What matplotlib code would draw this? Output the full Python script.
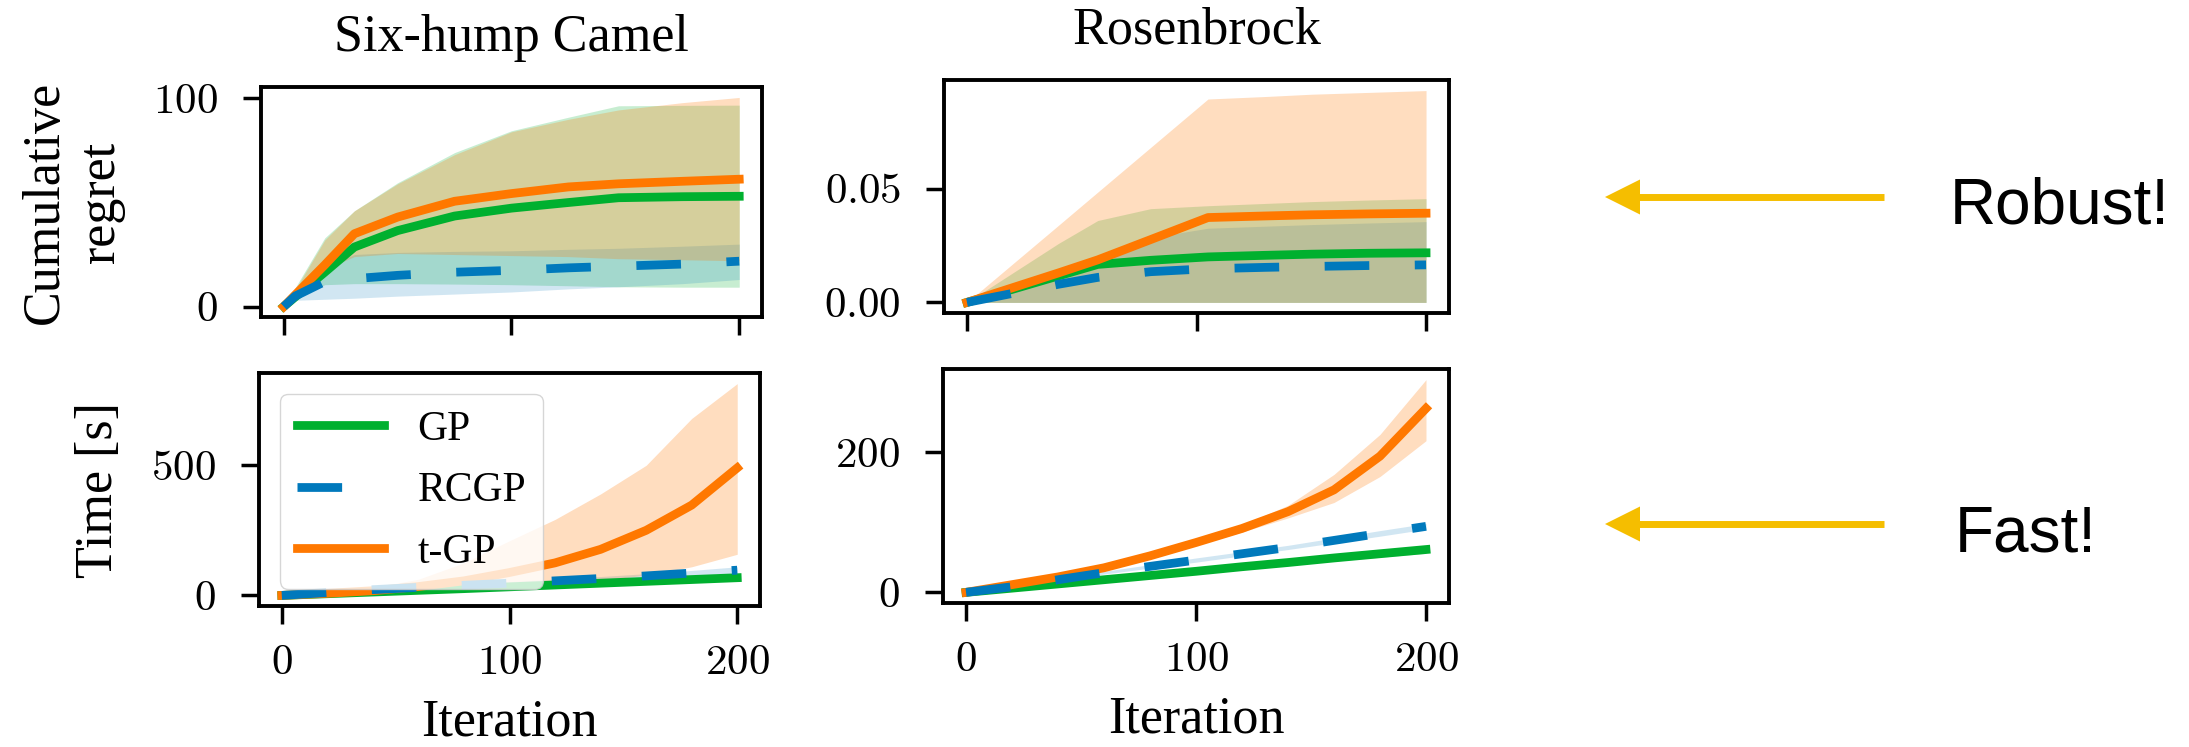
import matplotlib.pyplot as plt
from matplotlib.lines import Line2D
from matplotlib.patches import Polygon
from matplotlib.ticker import FuncFormatter

plt.rcParams['font.family'] = ['Liberation Serif', 'DejaVu Serif']
plt.rcParams['mathtext.fontset'] = 'cm'

c_gp = '#00b02f'
c_rcgp = '#0079bc'
c_tgp = '#ff7800'

# Six-hump Camel - cumulative regret
shc_it = [0, 5, 18, 31, 50, 75, 100, 125, 147, 175, 200]
shc_gp = [0, 4.6, 16.5, 28.6, 36.5, 43.5, 47.3, 50.0, 52.3, 52.8, 53.0]
shc_gp_lo = [0, 4, 10.5, 11, 11, 10.8, 10.5, 10, 9.5, 9.3, 9.3]
shc_gp_hi = [0, 9, 33, 46, 59.5, 74, 84.5, 91, 96.5, 96.7, 96.8]
shc_rcgp = [0, 5, 12, 13.4, 15, 16.5, 17.4, 18.6, 19.4, 20.4, 21.8]
shc_rcgp_lo = [0, 3, 3.5, 4, 5, 6, 7, 8.5, 9.5, 11, 13]
shc_rcgp_hi = [0, 5.5, 19, 25, 26, 26.5, 26.8, 27.5, 28, 29, 30]
shc_tgp = [0, 5.6, 20, 35, 43, 50.6, 54.3, 57.5, 59, 60.2, 61.2]
shc_tgp_lo = [0, 5, 18, 24, 25.5, 25, 24.5, 24, 23, 22.5, 22]
shc_tgp_hi = [0, 8, 32, 46, 59, 73, 84, 90, 94.5, 98, 100.5]

# Rosenbrock - cumulative regret
ros_it = [0, 20, 40, 57, 80, 105, 130, 150, 175, 200]
ros_gp = [0, 0.0058, 0.0117, 0.0167, 0.0185, 0.0200, 0.0207, 0.0212, 0.0216, 0.0218]
ros_gp_lo = [0, 0, 0, 0, 0, 0, 0, 0, 0, 0]
ros_gp_hi = [0, 0.0130, 0.0260, 0.0360, 0.0412, 0.0425, 0.0435, 0.0443, 0.0450, 0.0456]
ros_rcgp = [0, 0.0040, 0.0080, 0.0110, 0.0135, 0.0148, 0.0154, 0.0158, 0.0162, 0.0165]
ros_rcgp_lo = [0, 0, 0, 0, 0, 0, 0, 0, 0, 0]
ros_rcgp_hi = [0, 0.0055, 0.0125, 0.0185, 0.0285, 0.0326, 0.0335, 0.0342, 0.0349, 0.0355]
ros_tgp = [0, 0.0065, 0.0130, 0.0187, 0.0276, 0.0373, 0.0380, 0.0385, 0.0389, 0.0392]
ros_tgp_lo = [0, 0, 0, 0, 0, 0, 0, 0, 0, 0]
ros_tgp_hi = [0, 0.0170, 0.0340, 0.0485, 0.0681, 0.0894, 0.0905, 0.0915, 0.0923, 0.0931]

# Six-hump Camel - wall-clock time [s]
shc_t_it = [0, 20, 40, 60, 80, 100, 120, 140, 160, 180, 200]
shc_t_gp = [0, 6.5, 13, 19.5, 26, 33, 40, 47, 54, 61, 68]
shc_t_gp_lo = [0, 4.5, 10.5, 16.5, 23, 29.5, 36, 42.5, 49, 55, 61]
shc_t_gp_hi = [0, 8.5, 15.5, 22.5, 29, 36.5, 44, 51.5, 59, 67, 75]
shc_t_rcgp = [0, 11, 22, 31, 39, 47, 56, 65, 75, 86, 97]
shc_t_rcgp_lo = [0, 9, 19, 27, 34.5, 41.5, 49.5, 57.5, 66.5, 76, 86]
shc_t_rcgp_hi = [0, 13, 25, 35, 43.5, 52.5, 62.5, 72.5, 83.5, 96, 110]
shc_t_tgp = [0, 8, 18, 34, 56, 88, 125, 177, 250, 347, 490]
shc_t_tgp_lo = [0, 5, 10, 17, 27, 35, 45, 58, 78, 110, 158]
shc_t_tgp_hi = [0, 12, 30, 62, 125, 210, 292, 390, 500, 680, 814]

# Rosenbrock - wall-clock time [s]
ros_t_it = [0, 20, 40, 60, 80, 100, 120, 140, 160, 180, 200]
ros_t_gp = [0, 6, 12, 18, 24, 30, 36.5, 42.5, 49, 55, 61]
ros_t_gp_lo = [0, 5, 10.5, 16, 21.5, 27, 33, 38.5, 44.5, 50, 55.5]
ros_t_gp_hi = [0, 7, 13.5, 20, 26.5, 33, 40, 46.5, 53.5, 60, 66.5]
ros_t_rcgp = [0, 8, 18, 28, 37, 46, 55, 64, 74, 84, 94]
ros_t_rcgp_lo = [0, 7, 16, 26, 34.5, 43, 52, 61, 70.5, 80, 90]
ros_t_rcgp_hi = [0, 9, 20, 30, 39.5, 49, 58, 67, 77.5, 88, 98]
ros_t_tgp = [0, 11, 22, 35, 52, 71, 91, 115, 146, 194, 262]
ros_t_tgp_lo = [0, 10, 20, 33, 49, 67, 86, 106, 128, 165, 216]
ros_t_tgp_hi = [0, 12, 24, 37, 55, 75, 96, 124, 168, 225, 303]

W, H = 2189, 747
fig = plt.figure(figsize=(W / 100, H / 100), dpi=100)


def px_axes(left, top, right, bottom):
    return fig.add_axes([left / W, 1 - bottom / H, (right - left) / W, (bottom - top) / H])


def draw(ax, it, gp, gp_lo, gp_hi, rc, rc_lo, rc_hi, tg, tg_lo, tg_hi):
    ax.fill_between(it, gp_lo, gp_hi, color=c_gp, alpha=0.22, lw=0)
    ax.fill_between(it, rc_lo, rc_hi, color=c_rcgp, alpha=0.18, lw=0)
    ax.fill_between(it, tg_lo, tg_hi, color=c_tgp, alpha=0.25, lw=0)
    ax.plot(it, gp, color=c_gp, lw=6.3, label='GP', zorder=3)
    ax.plot(it, rc, color=c_rcgp, lw=6.3, ls=(0, (5.1, 5.2)), label='RCGP', zorder=5)
    ax.plot(it, tg, color=c_tgp, lw=6.3, label='t-GP', zorder=4)
    ax.set_xticks([0, 100, 200])
    for s in ax.spines.values():
        s.set_linewidth(2.8)
    ax.tick_params(length=13, width=2.5, labelsize=31)
    ax.tick_params(axis='x', pad=15)
    ax.tick_params(axis='y', pad=18)
    ax.xaxis.set_major_formatter(FuncFormatter(lambda v, p: f'${v:g}$'))


ax_tl = px_axes(261, 87, 762, 317)
ax_tr = px_axes(944, 80, 1449, 313)
ax_bl = px_axes(259, 373, 760, 606)
ax_br = px_axes(943, 369, 1449, 603)

draw(ax_tl, shc_it, shc_gp, shc_gp_lo, shc_gp_hi, shc_rcgp, shc_rcgp_lo, shc_rcgp_hi,
     shc_tgp, shc_tgp_lo, shc_tgp_hi)
draw(ax_tr, ros_it, ros_gp, ros_gp_lo, ros_gp_hi, ros_rcgp, ros_rcgp_lo, ros_rcgp_hi,
     ros_tgp, ros_tgp_lo, ros_tgp_hi)
draw(ax_bl, shc_t_it, shc_t_gp, shc_t_gp_lo, shc_t_gp_hi, shc_t_rcgp, shc_t_rcgp_lo,
     shc_t_rcgp_hi, shc_t_tgp, shc_t_tgp_lo, shc_t_tgp_hi)
draw(ax_br, ros_t_it, ros_t_gp, ros_t_gp_lo, ros_t_gp_hi, ros_t_rcgp, ros_t_rcgp_lo,
     ros_t_rcgp_hi, ros_t_tgp, ros_t_tgp_lo, ros_t_tgp_hi)

ax_tl.set_yticks([0, 100])
ax_tr.set_yticks([0, 0.05])
ax_bl.set_yticks([0, 500])
ax_br.set_yticks([0, 200])
for ax in (ax_tl, ax_bl, ax_br):
    ax.yaxis.set_major_formatter(FuncFormatter(lambda v, p: f'${v:g}$'))
ax_tr.yaxis.set_major_formatter(FuncFormatter(lambda v, p: f'${v:.2f}$'))

for ax in (ax_tl, ax_tr):
    ax.tick_params(axis='x', labelbottom=False)

ax_tl.set_title('Six-hump Camel', fontsize=37.5, pad=26)
ax_tr.set_title('Rosenbrock', fontsize=37.5, pad=26)

ax_tl.set_ylabel('Cumulative\nregret', fontsize=37.5)
ax_bl.set_ylabel('Time [s]', fontsize=37.5)
for ax in (ax_tl, ax_bl):
    ax.yaxis.set_label_coords(-0.272, 0.5)
for ax in (ax_bl, ax_br):
    ax.set_xlabel('Iteration', fontsize=37.5)
    ax.xaxis.set_label_coords(0.5, -0.395)

ax_bl.legend(loc='upper left', fontsize=30, handlelength=2.1, borderaxespad=0.5,
             labelspacing=0.55)

# annotation arrows on the right
gold = '#f5be00'


def fx(x):
    return x / W


def fy(y):
    return 1 - y / H


for y, word, tx in [(197, 'Robust!', 1950), (524, 'Fast!', 1955)]:
    fig.add_artist(Line2D([fx(1884), fx(1637)], [fy(y), fy(y)], color=gold, lw=5,
                          solid_capstyle='butt', transform=fig.transFigure))
    fig.add_artist(Polygon([[fx(1605), fy(y)], [fx(1640), fy(y - 17.5)], [fx(1640), fy(y + 17.5)]],
                           closed=True, color=gold, lw=0, transform=fig.transFigure))
    fig.text(fx(tx), fy(y + 27), word, family='Liberation Sans', fontsize=46,
             ha='left', va='baseline')

plt.savefig('out.png', dpi=100)
